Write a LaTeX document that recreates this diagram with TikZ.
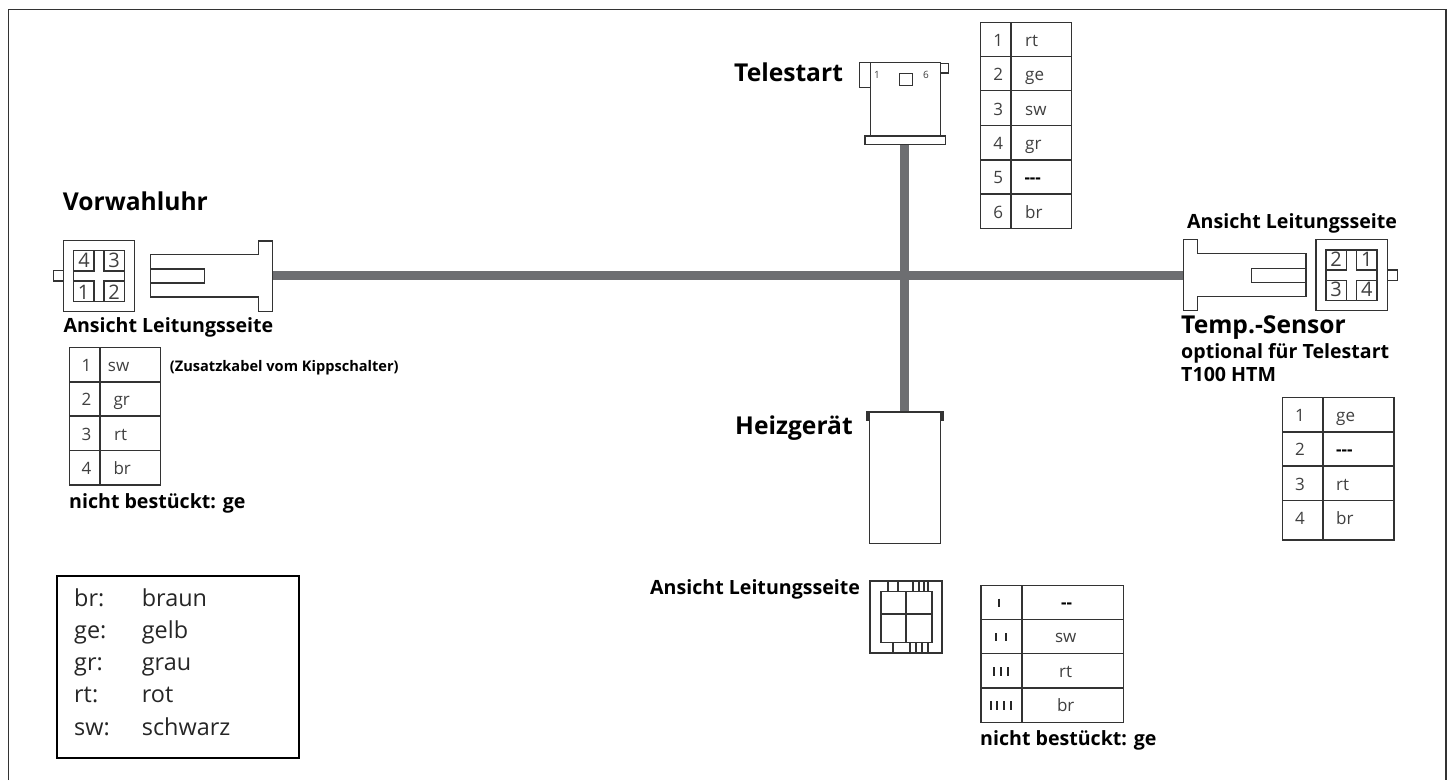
\documentclass[tikz,border=0pt]{standalone}
\usepackage{fontspec}
\setmainfont{Open Sans}
\definecolor{barc}{HTML}{6D6E71}
\definecolor{linec}{HTML}{333333}
\tikzset{
  x=1pt,y=-1pt,
  ln/.style={draw=linec,line width=1.1pt,fill=white},
  thk/.style={draw=linec,line width=1.5pt},
  bar/.style={draw=none,fill=barc},
  tab/.style={draw=linec,line width=1.2pt},
  tabv/.style={draw=linec,line width=1.6pt},
  big/.style={font=\fontsize{24.6}{28}\selectfont\bfseries,anchor=base west,inner sep=0pt},
  mid/.style={font=\fontsize{19.6}{22}\selectfont\bfseries,anchor=base west,inner sep=0pt},
  cell/.style={font=\fontsize{17}{20}\selectfont,text=black!75,anchor=base,inner sep=0pt},
  dig/.style={font=\fontsize{20}{22}\selectfont,text=black!75,anchor=base,inner sep=0pt},
  dsh/.style={font=\fontsize{17}{20}\selectfont\bfseries,text=black,anchor=base,inner sep=0pt},
  leg/.style={font=\fontsize{23.4}{26}\selectfont,text=black!85,anchor=base west,inner sep=0pt},
}
\begin{document}
\begin{tikzpicture}
\useasboundingbox (0,0) rectangle (1453,780);
\fill[white] (0,0) rectangle (1453,780);
\draw[draw=linec,line width=1.1pt] (8.5,780) -- (8.5,9.3) -- (1446,9.3) -- (1446,780);
% bars
\fill[bar] (272,270.5) rectangle (1183,279.5);
\fill[bar] (900,144) rectangle (909,412);
% Vorwahluhr
\node[big] (tv) at (62.7,210) {Vorwahluhr};
\draw[ln] (53.3,270.7) rectangle (63.5,281);
\draw[ln] (63.5,240.7) rectangle (134.5,311.7);
\draw[thk] (73.7,250.3) rectangle (94,271) (104,250.3) rectangle (124.7,271) (73.7,281) rectangle (94,301.7) (104,281) rectangle (124.7,301.7);
\draw[ln] (94,250.3)--(104,250.3) (94,301.7)--(104,301.7) (73.7,271)--(73.7,281) (124.7,271)--(124.7,281);
\foreach \t/\a/\b in {4/84/267.7,3/114/267.7,1/83.5/299.3,2/114/299.3} \node[dig] at (\a,\b) {\t};
\draw[ln] (150.3,254.7) -- (258.3,254.7) -- (258.3,241) -- (272.3,241) -- (272.3,311.3) -- (258.3,311.3) -- (258.3,297) -- (150.3,297) -- cycle;
\draw[ln] (150.3,269) rectangle (204.3,283);
\node[mid] (al) at (63.3,332.3) {Ansicht Leitungsseite};
% Telestart
\node[big] (tt) at (734,81) {Telestart};
\draw[ln] (859.3,62.7) rectangle (870.7,87.3);
\draw[ln] (940.7,63.3) rectangle (948.7,73);
\draw[ln] (870.7,62.7) rectangle (940.7,136);
\draw[ln] (865,136) rectangle (945.3,144.7);
\draw[thk] (870.7,136) -- (940.7,136);
\draw[ln] (899.3,73.3) rectangle (912.7,85.7);
\node[cell,font=\fontsize{10}{11}\selectfont] at (877,78.3) {1};
\node[cell,font=\fontsize{10}{11}\selectfont] at (926,78.3) {6};
% Telestart table
\draw[tab] (980.3,22.7) rectangle (1071.7,228.3);
\draw[tabv] (1011,22.7) -- (1011,228.3);
\foreach \r in {56.7,90.7,125.3,160,194} \draw[tab] (980.3,\r) -- (1071.7,\r);
\foreach \n/\b in {1/46.7,2/80.7,3/115,4/149.3,5/183.5,6/218.3} \node[cell] at (998.3,\b) {\n};
\foreach \c/\b in {rt/46.7,ge/80.7,sw/115,gr/149.3,br/218.3} \node[cell,anchor=base west] at (1025,\b) {\c};
\node[dsh,anchor=base west] at (1024.3,183.5) {\mbox{-{}-{}-}};
% right connector
\node[mid] (ar) at (1187,228.3) {Ansicht Leitungsseite};
\draw[ln] (1387.3,270) rectangle (1397.3,280.3);
\draw[ln] (1316,239.7) rectangle (1387.3,310.3);
\draw[thk] (1326,250) rectangle (1346.7,270) (1356.3,250) rectangle (1377,270) (1326,280.3) rectangle (1346.7,300.3) (1356.3,280.3) rectangle (1377,300.3);
\draw[ln] (1346.7,250)--(1356.3,250) (1346.7,300.3)--(1356.3,300.3) (1326,270)--(1326,280.3) (1377,270)--(1377,280.3);
\foreach \t/\a/\b in {2/1336/266,1/1366.7/266,3/1336/296.7,4/1366.7/296.7} \node[dig] at (\a,\b) {\t};
\draw[ln] (1306,253.3) -- (1197.7,253.3) -- (1197.7,239.7) -- (1183.3,239.7) -- (1183.3,310.3) -- (1197.7,310.3) -- (1197.7,296.3) -- (1306,296.3) -- cycle;
\draw[ln] (1251.3,268.3) rectangle (1306,282.3);
\node[big] (ts) at (1181,333) {Temp.-Sensor};
\node[mid] (o1) at (1181,358) {optional für Telestart};
\node[mid] (o2) at (1181,381.7) {T100 HTM};
% Heizgeraet
\node[big] (th) at (735,434) {Heizgerät};
\draw[ln,line width=1.3pt] (869.3,412) rectangle (940.7,543.3);
\draw[draw=linec,line width=2.8pt] (867.8,411) -- (867.8,421.3) (942.2,411) -- (942.2,421.3);
\draw[thk] (869,412) -- (940.7,412);
\node[mid] (ah) at (650,594) {Ansicht Leitungsseite};
\draw[draw=linec,line width=1.9pt] (870.3,581) rectangle (942.3,652.7);
\draw[draw=linec,line width=1.4pt] (881,591.7) rectangle (932,642.3);
\draw[draw=linec,line width=2pt] (906.3,591.7) -- (906.3,642.3) (881,614.3) -- (932,614.3);
\foreach \a in {888.3,897.7,913.3,919.3,924,928.3} \draw[draw=linec,line width=1.8pt] (\a,581) -- (\a,591.7);
\foreach \a in {892.7,910,916,922.3,928.3} \draw[draw=linec,line width=1.9pt] (\a,642.3) -- (\a,652.7);
% Heiz table
\draw[tab] (981,585.3) rectangle (1123.3,722.3);
\draw[tabv] (1021.7,585.3) -- (1021.7,722.3);
\foreach \r in {619.3,653.7,688} \draw[tab] (981,\r) -- (1123.3,\r);
\foreach \a/\u/\v in {999.3/598.7/606.7,995.7/633.3/640.7,1005.7/633.3/640.7,994.3/667.3/676,1001/667.3/676,1007.7/667.3/676,990.7/701/709.7,997.3/701/709.7,1004/701/709.7,1010.7/701/709.7}
  \draw[draw=black!85,line width=2.1pt] (\a,\u) -- (\a,\v);
\foreach \c/\b in {sw/642.7,rt/677.7,br/711.7} \node[cell] at (1065.7,\b) {\c};
\node[dsh] at (1066.5,608) {\mbox{-{}-}};
\node[mid] (nh) at (980,745.7) {nicht bestückt: ge};
% left table
\draw[tab] (69.3,347.7) rectangle (160.3,485);
\draw[tabv] (100,347.7) -- (100,485);
\foreach \r in {382,416,450.7} \draw[tab] (69.3,\r) -- (160.3,\r);
\foreach \n/\b in {1/371.7,2/405.7,3/440,4/474.3} \node[cell] at (86.5,\b) {\n};
\foreach \c/\a/\b in {sw/107.7/371.7,gr/113.3/405.7,rt/114/440,br/113.3/474.3} \node[cell,anchor=base west] at (\a,\b) {\c};
\node[font=\fontsize{14.6}{16}\selectfont\bfseries,anchor=base west,inner sep=0pt] (zk) at (169.7,371) {(Zusatzkabel vom Kippschalter)};
\node[mid] (nl) at (69,508) {nicht bestückt: ge};
% right table
\draw[tab] (1282.7,397.7) rectangle (1394,540);
\draw[tabv] (1323,397.7) -- (1323,540);
\foreach \r in {432,466,500.7} \draw[tab] (1282.7,\r) -- (1394,\r);
\foreach \n/\b in {1/421.7,2/455.7,3/490,4/524.3} \node[cell] at (1300,\b) {\n};
\foreach \c/\b in {ge/421.7,rt/490,br/524.3} \node[cell,anchor=base west] at (1336,\b) {\c};
\node[dsh,anchor=base west] at (1336,455.7) {\mbox{-{}-{}-}};
% legend
\draw[draw=black,line width=2.2pt] (57.3,575.7) rectangle (299,758);
\foreach \k/\v/\b in {br:/braun/606,ge:/gelb/638,gr:/grau/670,rt:/rot/702,sw:/schwarz/735}{
  \node[leg] at (74,\b) {\k};
  \node[leg] at (141.7,\b) {\v};
}
\end{tikzpicture}
\end{document}
